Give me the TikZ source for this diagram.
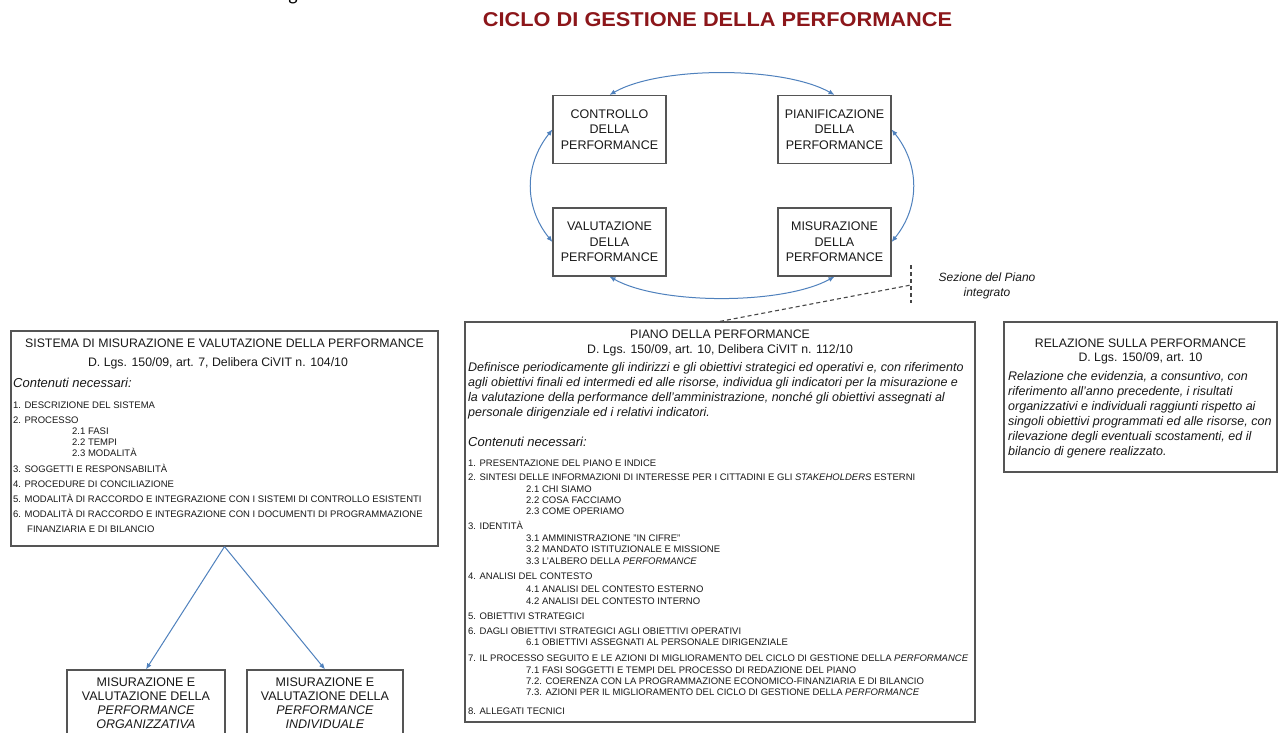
\documentclass[tikz,border=0pt]{standalone}
\usepackage{graphicx}
\usepackage{fontspec}
\setmainfont{Liberation Sans}
\newfontfamily\bodyfont{Carlito}
\usetikzlibrary{arrows.meta}

\definecolor{cycleblue}{RGB}{79,129,189}
\definecolor{framegray}{RGB}{85,85,85}
\definecolor{dashgray}{RGB}{70,70,70}
\definecolor{titlered}{RGB}{140,22,26}
\definecolor{ink}{RGB}{25,25,25}

\newcommand\TitleSize{\fontsize{20bp}{24bp}\selectfont}
\newcommand\CycleSize{\fontsize{12.5bp}{15.4bp}\selectfont}
\newcommand\HeadSize{\fontsize{12.3bp}{15bp}\selectfont}
\newcommand\ParaSize{\fontsize{12.5bp}{15bp}\selectfont}
\newcommand\NoteSize{\fontsize{12bp}{15bp}\selectfont}
\newcommand\ListSize{\fontsize{9.5bp}{11.5bp}\selectfont}

\begin{document}
\begin{tikzpicture}[x=1bp,y=-1bp,
  boxframe/.style={draw=framegray, line width=1.2bp, inner sep=0pt},
  cyclebox/.style={boxframe, minimum width=113bp, minimum height=68bp,
    align=center, font=\CycleSize, text=ink},
  cyc/.style={draw=cycleblue, line width=1bp,
    {Latex[length=6bp,width=5bp]}-{Latex[length=6bp,width=5bp]}},
  splitarrow/.style={draw=cycleblue, line width=1bp, -{Latex[length=6bp,width=5bp]}},
  dashline/.style={draw=dashgray, line width=1.1bp, dash pattern=on 4bp off 3bp},
  listline/.style={anchor=base west, inner sep=0pt, font=\ListSize, text=ink},
  headline/.style={anchor=base, inner sep=0pt, font=\HeadSize, text=ink},
  paraline/.style={anchor=base west, inner sep=0pt, font=\ParaSize\itshape, text=ink},
  contline/.style={anchor=base west, inner sep=0pt, font=\fontsize{13bp}{15bp}\selectfont\itshape, text=ink},
  boxline/.style={anchor=base, inner sep=0pt, font=\CycleSize, text=ink},
]
\fill[white] (0,0) rectangle (1284,733);
\useasboundingbox (0,0) rectangle (1284,733);

% tail of a line of body text above the page
\node[anchor=base, inner sep=0pt, font=\bodyfont\fontsize{20bp}{20bp}\selectfont] (stray) at (293,0.5) {g};

% heading
\node[anchor=base, inner sep=0pt, font=\TitleSize\bfseries, text=titlered] (title)
  at (717.5,27) {\scalebox{1.088}[1]{CICLO DI GESTIONE DELLA PERFORMANCE}};

% the four phases of the cycle
\node[cyclebox] (ctrl) at (609.5,129.5) {CONTROLLO\\DELLA\\PERFORMANCE};
\node[cyclebox] (pian) at (834.5,129.5) {PIANIFICAZIONE\\DELLA\\PERFORMANCE};
\node[cyclebox] (valu) at (609.5,242) {VALUTAZIONE\\DELLA\\PERFORMANCE};
\node[cyclebox] (misu) at (834.5,242) {MISURAZIONE\\DELLA\\PERFORMANCE};

\draw[cyc] (ctrl.north) .. controls (660,66) and (783,66) .. (pian.north);
\draw[cyc] (pian.east) .. controls (920,165) and (920,207) .. (misu.east);
\draw[cyc] (valu.south) .. controls (660,305) and (783,305) .. (misu.south);
\draw[cyc] (ctrl.west) .. controls (524,165) and (524,207) .. (valu.west);

% documents
\node[boxframe, minimum width=427bp, minimum height=215bp] (sistema) at (224.5,438.5) {};
\node[boxframe, minimum width=510bp, minimum height=400bp] (piano) at (720,522) {};
\node[boxframe, minimum width=273bp, minimum height=150bp] (relazione) at (1140.5,397) {};
\node[boxframe, minimum width=158bp, minimum height=80bp] (org) at (146,710) {};
\node[boxframe, minimum width=156bp, minimum height=80bp] (ind) at (325,710) {};

% the Piano as a section of the integrated plan
\coordinate (brtop) at (911,265);
\coordinate (brbot) at (911,303);
\coordinate (brjoin) at (911,285);
\draw[dashline] (brtop) -- (brbot);
\draw[dashline] (piano.north) -- (brjoin);
\node[anchor=base, inner sep=0pt, font=\NoteSize\itshape, text=ink] (sez1) at (987,281) {Sezione del Piano};
\node[anchor=base, inner sep=0pt, font=\NoteSize\itshape, text=ink] (sez2) at (987,296) {integrato};

% the two kinds of assessment
\draw[splitarrow] (sistema.south) -- (org.north);
\draw[splitarrow] (sistema.south) -- (ind.north);

% Sistema di misurazione e valutazione
\node[headline] (smvh1) at (224.5,347) {SISTEMA DI MISURAZIONE E VALUTAZIONE DELLA PERFORMANCE};
\node[headline] (smvh2) at (218,366) {D. Lgs. 150/09, art. 7, Delibera CiVIT n. 104/10};
\node[contline] (smvc) at (13,387.5) {Contenuti necessari:};
\foreach \yb/\xb/\txt [count=\k] in {
  408.5/13/{1. DESCRIZIONE DEL SISTEMA},
  423.5/13/{2. PROCESSO},
  434.5/72/{2.1 FASI},
  445.5/72/{2.2 TEMPI},
  456.5/72/{2.3 MODALITÀ},
  472.5/13/{3. SOGGETTI E RESPONSABILITÀ},
  487.5/13/{4. PROCEDURE DI CONCILIAZIONE},
  502.5/13/{5. MODALITÀ DI RACCORDO E INTEGRAZIONE CON I SISTEMI DI CONTROLLO ESISTENTI},
  517.5/13/{6. MODALITÀ DI RACCORDO E INTEGRAZIONE CON I DOCUMENTI DI PROGRAMMAZIONE},
  532.5/27/{FINANZIARIA E DI BILANCIO}}
  \node[listline] (smv\k) at (\xb,\yb) {\txt};

% Piano della performance
\node[headline] (pdph1) at (720,338.5) {PIANO DELLA PERFORMANCE};
\node[headline] (pdph2) at (720,353.5) {D. Lgs. 150/09, art. 10, Delibera CiVIT n. 112/10};
\foreach \yb/\txt [count=\k] in {
  371/{Definisce periodicamente gli indirizzi e gli obiettivi strategici ed operativi e, con riferimento},
  386/{agli obiettivi finali ed intermedi ed alle risorse, individua gli indicatori per la misurazione e},
  401/{la valutazione della performance dell’amministrazione, nonché gli obiettivi assegnati al},
  416/{personale dirigenziale ed i relativi indicatori.}}
  \node[paraline] (pdpp\k) at (468,\yb) {\txt};
\node[contline] (pdpc) at (468,446.5) {Contenuti necessari:};
\foreach \yb/\xb/\txt [count=\k] in {
  466.5/468/{1. PRESENTAZIONE DEL PIANO E INDICE},
  480.5/468/{2. SINTESI DELLE INFORMAZIONI DI INTERESSE PER I CITTADINI E GLI \textit{STAKEHOLDERS} ESTERNI},
  492.5/526/{2.1 CHI SIAMO},
  503.5/526/{2.2 COSA FACCIAMO},
  514.5/526/{2.3 COME OPERIAMO},
  529.5/468/{3. IDENTITÀ},
  541.5/526/{3.1 AMMINISTRAZIONE "IN CIFRE"},
  552.5/526/{3.2 MANDATO ISTITUZIONALE E MISSIONE},
  564.5/526/{3.3 L’ALBERO DELLA \textit{PERFORMANCE}},
  579.5/468/{4. ANALISI DEL CONTESTO},
  592.5/526/{4.1 ANALISI DEL CONTESTO ESTERNO},
  604.5/526/{4.2 ANALISI DEL CONTESTO INTERNO},
  619.5/468/{5. OBIETTIVI STRATEGICI},
  634.5/468/{6. DAGLI OBIETTIVI STRATEGICI AGLI OBIETTIVI OPERATIVI},
  645.5/526/{6.1 OBIETTIVI ASSEGNATI AL PERSONALE DIRIGENZIALE},
  661.5/468/{7. IL PROCESSO SEGUITO E LE AZIONI DI MIGLIORAMENTO DEL CICLO DI GESTIONE DELLA \textit{PERFORMANCE}},
  673.5/526/{7.1 FASI SOGGETTI E TEMPI DEL PROCESSO DI REDAZIONE DEL PIANO},
  684.5/526/{7.2. COERENZA CON LA PROGRAMMAZIONE ECONOMICO-FINANZIARIA E DI BILANCIO},
  695.5/526/{7.3. AZIONI PER IL MIGLIORAMENTO DEL CICLO DI GESTIONE DELLA \textit{PERFORMANCE}},
  714.5/468/{8. ALLEGATI TECNICI}}
  \node[listline] (pdp\k) at (\xb,\yb) {\txt};

% Relazione sulla performance
\node[headline] (relh1) at (1140.5,347) {RELAZIONE SULLA PERFORMANCE};
\node[headline] (relh2) at (1140.5,361.5) {D. Lgs. 150/09, art. 10};
\foreach \yb/\txt [count=\k] in {
  380.5/{Relazione che evidenzia, a consuntivo, con},
  395.5/{riferimento all’anno precedente, i risultati},
  410.5/{organizzativi e individuali raggiunti rispetto ai},
  425.5/{singoli obiettivi programmati ed alle risorse, con},
  440.5/{rilevazione degli eventuali scostamenti, ed il},
  455.5/{bilancio di genere realizzato.}}
  \node[paraline] (relp\k) at (1008,\yb) {\txt};

% organisational and individual assessment
\foreach \yb/\txt [count=\k] in {686/{MISURAZIONE E}, 700/{VALUTAZIONE DELLA},
  714.5/{\textit{PERFORMANCE}}, 728.5/{\textit{ORGANIZZATIVA}}}
  \node[boxline] (orgt\k) at (146,\yb) {\txt};
\foreach \yb/\txt [count=\k] in {686/{MISURAZIONE E}, 700/{VALUTAZIONE DELLA},
  714.5/{\textit{PERFORMANCE}}, 728.5/{\textit{INDIVIDUALE}}}
  \node[boxline] (indt\k) at (325,\yb) {\txt};
\end{tikzpicture}
\end{document}
